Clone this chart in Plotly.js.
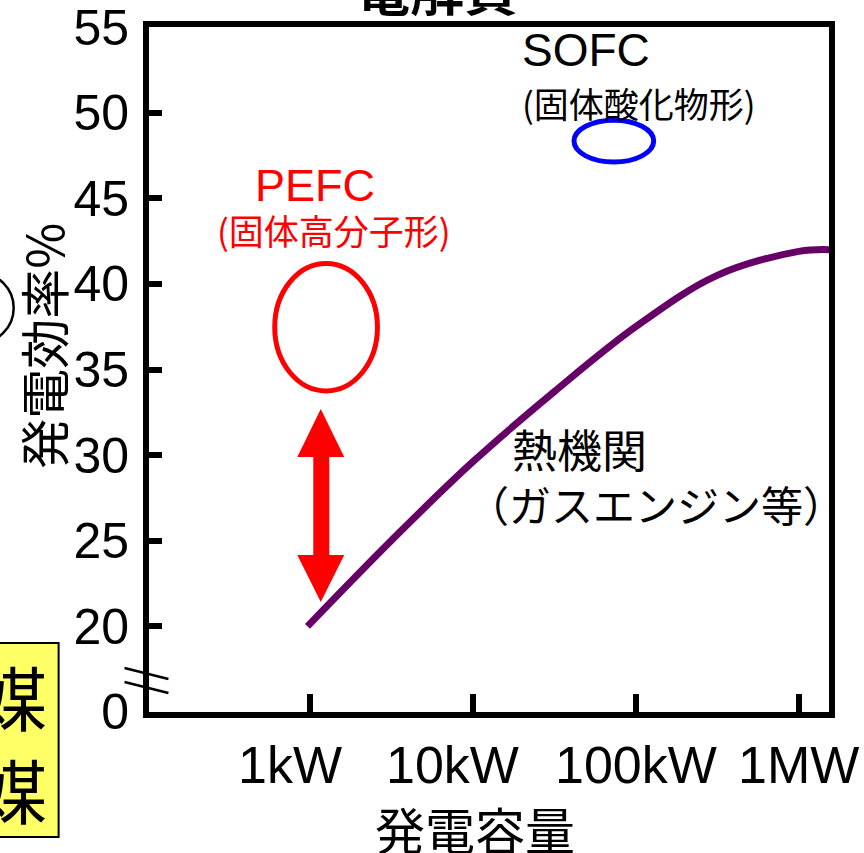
<!DOCTYPE html>
<html>
<head>
<meta charset="utf-8">
<script src="https://cdn.plot.ly/plotly-3.0.1.min.js"></script>
<style>
  html, body { margin: 0; padding: 0; background: #ffffff; }
  #chart { width: 864px; height: 853px; }
</style>
</head>
<body>
<div id="chart"></div>
<script>
// ---- data ----
const capacityKW = [0.97, 3.16, 10, 31.6, 100, 316, 1000, 1550];
const efficiencyPct = [20.0, 25.0, 29.6, 33.7, 37.5, 40.5, 41.9, 42.0];

const xTickVals = [1, 10, 100, 1000];
const xTickText = ['1kW', '10kW', '100kW', '1MW'];
const xTickShift = [-20, -20, 0, 0];   // label offsets as drawn in the source slide
const yTickVals = [15, 20, 25, 30, 35, 40, 45, 50, 55];
const yTickText = ['0', '20', '25', '30', '35', '40', '45', '50', '55'];

// technology regions (kW range, % range)
const pefcKW = [0.611, 2.606];
const pefcPct = [33.75, 41.19];
const sofcKW = [41.8, 128.8];
const sofcPct = [47.12, 49.56];

const LATIN = '"Liberation Sans", Arial, sans-serif';
const CJK = '"Noto Sans CJK JP", "Liberation Sans", sans-serif';

const trace = {
  x: capacityKW,
  y: efficiencyPct,
  type: 'scatter',
  mode: 'lines',
  line: { color: '#660066', width: 7, shape: 'spline', smoothing: 1.0 },
  hoverinfo: 'skip',
  showlegend: false
};

const arrowPath = 'M 0.2526,0.4423 L 0.2871,0.3723 L 0.2651,0.3723 L 0.2651,0.2292 ' +
  'L 0.2871,0.2292 L 0.2526,0.1606 L 0.2181,0.2292 L 0.2416,0.2292 ' +
  'L 0.2416,0.3723 L 0.2181,0.3723 Z';

const xLabelAnnotations = xTickVals.map((v, i) => ({
  xref: 'x', yref: 'paper', x: Math.log10(v), y: -0.077,
  xanchor: 'center', yanchor: 'middle', xshift: xTickShift[i],
  text: xTickText[i], showarrow: false,
  font: { family: LATIN, size: 52, color: '#000000' }
}));

function ann(xref, yref, x, y, text, family, size, color, extra) {
  return Object.assign({ xref, yref, x, y, text, showarrow: false,
    xanchor: 'center', yanchor: 'middle',
    font: { family, size, color } }, extra || {});
}

const layout = {
  width: 864,
  height: 853,
  margin: { l: 148.5, r: 34.5, t: 27, b: 141 },
  paper_bgcolor: '#ffffff',
  plot_bgcolor: '#ffffff',
  showlegend: false,
  xaxis: {
    type: 'log',
    range: [-0.985, 3.185],
    tickvals: xTickVals,
    ticktext: xTickText,
    showticklabels: false,
    ticks: 'inside',
    ticklen: 18,
    tickwidth: 6,
    tickcolor: '#000000',
    showgrid: false,
    zeroline: false,
    showline: true,
    linecolor: '#000000',
    linewidth: 6,
    mirror: true
  },
  yaxis: {
    range: [14.995, 55.005],
    tickvals: yTickVals,
    ticktext: yTickText,
    ticks: 'inside',
    ticklen: 13,
    tickwidth: 6,
    tickcolor: '#000000',
    ticklabeloverflow: 'allow',
    ticklabelstandoff: 4,
    showgrid: false,
    zeroline: false,
    showline: true,
    linecolor: '#000000',
    linewidth: 6,
    mirror: true,
    tickfont: { family: LATIN, size: 50, color: '#000000' }
  },
  shapes: [
    { type: 'circle', xref: 'x', yref: 'y',
      x0: pefcKW[0], x1: pefcKW[1], y0: pefcPct[0], y1: pefcPct[1],
      line: { color: '#ff0000', width: 5 } },
    { type: 'circle', xref: 'x', yref: 'y',
      x0: sofcKW[0], x1: sofcKW[1], y0: sofcPct[0], y1: sofcPct[1],
      line: { color: '#0000ff', width: 5 } },
    { type: 'path', xref: 'paper', yref: 'paper', path: arrowPath,
      fillcolor: '#ff0000', line: { width: 0 } },
    // axis break marks
    { type: 'line', xref: 'paper', yref: 'paper',
      x0: -0.036, y0: 0.0642, x1: 0.0286, y1: 0.0482,
      line: { color: '#000000', width: 2.5 } },
    { type: 'line', xref: 'paper', yref: 'paper',
      x0: -0.036, y0: 0.0438, x1: 0.0286, y1: 0.0277,
      line: { color: '#000000', width: 2.5 } },
    // cropped neighbouring slide elements
    { type: 'rect', xref: 'paper', yref: 'paper',
      x0: -0.2327, x1: -0.1329, y0: -0.1825, y1: 0.1007,
      fillcolor: '#ffff66', line: { color: '#000000', width: 2 }, layer: 'below' },
    { type: 'circle', xref: 'paper', yref: 'paper',
      x0: -0.3018, x1: -0.199, y0: 0.5387, y1: 0.6409,
      line: { color: '#000000', width: 2.5 } }
  ],
  annotations: [
    ann('x', 'y', 0.0346, 45.77, 'PEFC', LATIN, 45, '#ff0000'),
    ann('x', 'y', 0.151, 43.2, '(固体高分子形)', CJK, 35, '#ff0000'),
    ann('x', 'y', 1.694, 53.66, 'SOFC', LATIN, 46, '#000000'),
    ann('x', 'y', 2.019, 50.62, '(固体酸化物形)', CJK, 35, '#000000'),
    ann('x', 'y', 1.657, 30.36, '熱機関', CJK, 45, '#000000'),
    ann('x', 'y', 2.123, 27.2, '（ガスエンジン等）', CJK, 42, '#000000'),
    // axis titles
    ann('paper', 'paper', 0.4794, -0.169, '発電容量', CJK, 50, '#000000'),
    ann('paper', 'paper', -0.1564, 0.534, '発電効率%', CJK, 50, '#000000', { textangle: -90 }),
    // cropped heading above the chart
    ann('paper', 'paper', 0.4236, 1.057, '<b>電解質</b>', CJK, 54, '#000000'),
    // cropped yellow label at the left
    ann('paper', 'paper', -0.2019, 0.0234, '媒', CJK, 70, '#000000'),
    ann('paper', 'paper', -0.2019, -0.111, '媒', CJK, 70, '#000000')
  ].concat(xLabelAnnotations)
};

Plotly.newPlot('chart', [trace], layout, { displayModeBar: false, staticPlot: true });
</script>
</body>
</html>
